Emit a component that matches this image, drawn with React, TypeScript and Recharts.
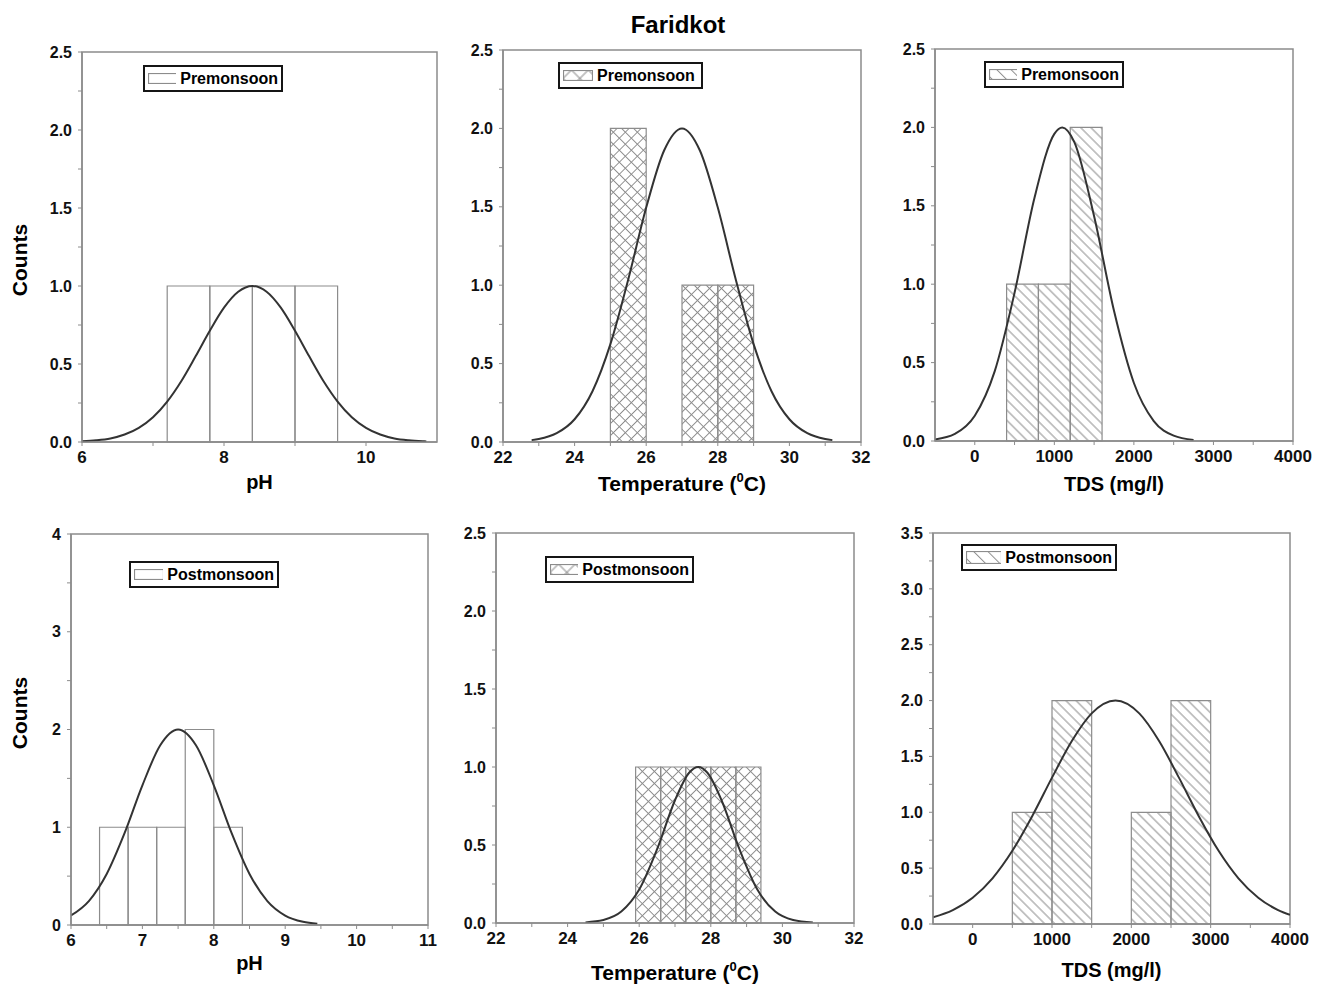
import React from 'react';
import { ComposedChart, Line, XAxis, YAxis, ReferenceArea, Legend, Label } from 'recharts';

const FONT = '"Liberation Sans", Arial, Helvetica, sans-serif';
const GREY = '#8c8c8c';

// ---- Premonsoon ----
const phPreLo = [7.2, 7.8, 8.4, 9.0];
const phPreHi = [7.8, 8.4, 9.0, 9.6];
const phPreCounts = [1, 1, 1, 1];
const phPreFitX = [6.0, 6.2, 6.4, 6.6, 6.8, 7.0, 7.2, 7.4, 7.6, 7.8, 8.0, 8.2, 8.4, 8.6, 8.8, 9.0, 9.2, 9.4, 9.6, 9.8, 10.0, 10.2, 10.4, 10.6, 10.8, 10.85];
const phPreFitY = [0.005, 0.011, 0.023, 0.048, 0.091, 0.159, 0.259, 0.391, 0.549, 0.713, 0.861, 0.963, 1.0, 0.963, 0.861, 0.713, 0.549, 0.391, 0.259, 0.159, 0.091, 0.048, 0.023, 0.011, 0.005, 0.004];

const tempPreLo = [25, 27, 28];
const tempPreHi = [26, 28, 29];
const tempPreCounts = [2, 1, 1];
const tempPreFitX = [22.8, 23, 23.5, 24, 24.5, 25, 25.5, 26, 26.5, 27, 27.5, 28, 28.5, 29, 29.5, 30, 30.5, 31, 31.2];
const tempPreFitY = [0.012, 0.019, 0.056, 0.145, 0.324, 0.624, 1.038, 1.495, 1.859, 2.0, 1.859, 1.495, 1.038, 0.624, 0.324, 0.145, 0.056, 0.019, 0.012];

const tdsPreLo = [400, 800, 1200];
const tdsPreHi = [800, 1200, 1600];
const tdsPreCounts = [1, 1, 2];
const tdsPreFitX = [-500, -250, 0, 250, 500, 750, 1000, 1100, 1250, 1500, 1750, 2000, 2250, 2500, 2750];
const tdsPreFitY = [0.010, 0.045, 0.161, 0.444, 0.945, 1.550, 1.959, 2.0, 1.908, 1.433, 0.830, 0.370, 0.127, 0.034, 0.007];

// ---- Postmonsoon ----
const phPostLo = [6.4, 6.8, 7.2, 7.6, 8.0];
const phPostHi = [6.8, 7.2, 7.6, 8.0, 8.4];
const phPostCounts = [1, 1, 1, 2, 1];
const phPostFitX = [6.0, 6.25, 6.5, 6.75, 7.0, 7.25, 7.5, 7.75, 8.0, 8.25, 8.5, 8.75, 9.0, 9.25, 9.45];
const phPostFitY = [0.097, 0.245, 0.522, 0.939, 1.429, 1.839, 2.0, 1.839, 1.429, 0.939, 0.522, 0.245, 0.097, 0.033, 0.012];

const tempPostLo = [25.9, 26.6, 27.3, 28.0, 28.7];
const tempPostHi = [26.6, 27.3, 28.0, 28.7, 29.4];
const tempPostCounts = [1, 1, 1, 1, 1];
const tempPostFitX = [24.5, 25.0, 25.5, 26.0, 26.5, 27.0, 27.4, 27.65, 27.9, 28.3, 28.8, 29.3, 29.8, 30.3, 30.85];
const tempPostFitY = [0.004, 0.019, 0.073, 0.214, 0.473, 0.787, 0.965, 1.0, 0.965, 0.787, 0.473, 0.214, 0.073, 0.019, 0.003];

const tdsPostLo = [500, 1000, 2000, 2500];
const tdsPostHi = [1000, 1500, 2500, 3000];
const tdsPostCounts = [1, 2, 1, 2];
const tdsPostFitX = [-500, -250, 0, 250, 500, 750, 1000, 1250, 1500, 1800, 2100, 2350, 2600, 2850, 3100, 3350, 3600, 3850, 4000];
const tdsPostFitY = [0.061, 0.125, 0.235, 0.409, 0.655, 0.965, 1.310, 1.638, 1.885, 2.0, 1.885, 1.638, 1.310, 0.965, 0.655, 0.409, 0.235, 0.125, 0.082];

// ---- ticks ----
const phPreXMajor = [6, 8, 10];
const phPreXMinor = [7, 9];
const phPostXMajor = [6, 7, 8, 9, 10, 11];
const phPostXMinor = [6.5, 7.5, 8.5, 9.5, 10.5];
const tempXMajor = [22, 24, 26, 28, 30, 32];
const tempXMinor = [23, 25, 27, 29, 31];
const tdsXMajor = [0, 1000, 2000, 3000, 4000];
const tdsXMinor = [500, 1500, 2500, 3500];
const countMajor25 = [0, 0.5, 1.0, 1.5, 2.0, 2.5];
const countMinor25 = [0.25, 0.75, 1.25, 1.75, 2.25];
const countMajor4 = [0, 1, 2, 3, 4];
const countMinor4 = [0.5, 1.5, 2.5, 3.5];
const countMajor35 = [0, 0.5, 1.0, 1.5, 2.0, 2.5, 3.0, 3.5];
const countMinor35 = [0.25, 0.75, 1.25, 1.75, 2.25, 2.75, 3.25];

const panels = [
  {
    id: 'p1', plot: { l: 82, t: 52, r: 437, b: 442 },
    xDomain: [6, 11], xMajor: phPreXMajor, xMinor: phPreXMinor,
    yDomain: [0, 2.5], yMajor: countMajor25, yMinor: countMinor25, yDigits: 1,
    lo: phPreLo, hi: phPreHi, counts: phPreCounts, fitX: phPreFitX, fitY: phPreFitY,
    hatch: 'none', legendText: 'Premonsoon', legend: { x: 143, y: 65, w: 140 }, swatch: [30, 11],
    title: 'pH', titleSize: 20, titleDy: 47,
  },
  {
    id: 'p2', plot: { l: 503, t: 50, r: 861, b: 442 },
    xDomain: [22, 32], xMajor: tempXMajor, xMinor: tempXMinor,
    yDomain: [0, 2.5], yMajor: countMajor25, yMinor: countMinor25, yDigits: 1,
    lo: tempPreLo, hi: tempPreHi, counts: tempPreCounts, fitX: tempPreFitX, fitY: tempPreFitY,
    hatch: 'cross', legendText: 'Premonsoon', legend: { x: 558, y: 62, w: 145 }, swatch: [30, 11],
    title: 'temp', titleSize: 21, titleDy: 49,
  },
  {
    id: 'p3', plot: { l: 935, t: 49, r: 1293, b: 441 },
    xDomain: [-500, 4000], xMajor: tdsXMajor, xMinor: tdsXMinor,
    yDomain: [0, 2.5], yMajor: countMajor25, yMinor: countMinor25, yDigits: 1,
    lo: tdsPreLo, hi: tdsPreHi, counts: tdsPreCounts, fitX: tdsPreFitX, fitY: tdsPreFitY,
    hatch: 'diag', legendText: 'Premonsoon', legend: { x: 984, y: 61, w: 140 }, swatch: [30, 11],
    title: 'TDS (mg/l)', titleSize: 20, titleDy: 50,
  },
  {
    id: 'p4', plot: { l: 71, t: 534, r: 428, b: 925 },
    xDomain: [6, 11], xMajor: phPostXMajor, xMinor: phPostXMinor,
    yDomain: [0, 4], yMajor: countMajor4, yMinor: countMinor4, yDigits: 0,
    lo: phPostLo, hi: phPostHi, counts: phPostCounts, fitX: phPostFitX, fitY: phPostFitY,
    hatch: 'none', legendText: 'Postmonsoon', legend: { x: 129, y: 561, w: 150 }, swatch: [30, 11],
    title: 'pH', titleSize: 20, titleDy: 45,
  },
  {
    id: 'p5', plot: { l: 496, t: 533, r: 854, b: 923 },
    xDomain: [22, 32], xMajor: tempXMajor, xMinor: tempXMinor,
    yDomain: [0, 2.5], yMajor: countMajor25, yMinor: countMinor25, yDigits: 1,
    lo: tempPostLo, hi: tempPostHi, counts: tempPostCounts, fitX: tempPostFitX, fitY: tempPostFitY,
    hatch: 'cross', legendText: 'Postmonsoon', legend: { x: 545, y: 556, w: 149 }, swatch: [30, 11],
    title: 'temp', titleSize: 21, titleDy: 57,
  },
  {
    id: 'p6', plot: { l: 933, t: 533, r: 1290, b: 924 },
    xDomain: [-500, 4000], xMajor: tdsXMajor, xMinor: tdsXMinor,
    yDomain: [0, 3.5], yMajor: countMajor35, yMinor: countMinor35, yDigits: 1,
    lo: tdsPostLo, hi: tdsPostHi, counts: tdsPostCounts, fitX: tdsPostFitX, fitY: tdsPostFitY,
    hatch: 'diag', legendText: 'Postmonsoon', legend: { x: 961, y: 544, w: 156 }, swatch: [36, 13],
    title: 'TDS (mg/l)', titleSize: 20, titleDy: 53,
  },
];

const PatternDef = ({ id, kind, size = 1 }: { id: string; kind: string; size?: number }) => {
  if (kind === 'cross') {
    const s = 8.5 * size;
    return (
      <pattern id={id} patternUnits="userSpaceOnUse" width={s} height={s} patternTransform="rotate(45)">
        <line x1={0} y1={s / 2} x2={s} y2={s / 2} stroke={GREY} strokeWidth={1} />
        <line x1={s / 2} y1={0} x2={s / 2} y2={s} stroke={GREY} strokeWidth={1} />
      </pattern>
    );
  }
  if (kind === 'diag') {
    const s = 7.2 * size;
    return (
      <pattern id={id} patternUnits="userSpaceOnUse" width={s} height={s} patternTransform="rotate(45)">
        <line x1={0} y1={s / 2} x2={s} y2={s / 2} stroke={GREY} strokeWidth={1} />
      </pattern>
    );
  }
  return null;
};

const LegendBox = ({ cfg }: { cfg: any }) => {
  const [sw, sh] = cfg.swatch;
  const pid = `${cfg.id}-lg`;
  return (
    <div
      style={{
        display: 'flex', alignItems: 'center', boxSizing: 'border-box',
        width: cfg.legend.w, height: 27, border: '2px solid #151515', background: '#fff',
        padding: '0 3px', gap: 4, fontFamily: FONT, fontWeight: 700, fontSize: 16, color: '#000',
      }}
    >
      <svg width={sw} height={sh} style={{ display: 'block' }}>
        <defs>
          <PatternDef id={pid} kind={cfg.hatch} size={1.4} />
        </defs>
        <rect x={0.5} y={0.5} width={sw - 1} height={sh - 1}
          fill={cfg.hatch === 'none' ? '#fff' : `url(#${pid})`} stroke={GREY} strokeWidth={1.2} />
      </svg>
      <span style={{ whiteSpace: 'nowrap' }}>{cfg.legendText}</span>
    </div>
  );
};

const Panel = ({ cfg }: { cfg: any }) => {
  const { plot } = cfg;
  const width = plot.r - plot.l + 90;
  const height = plot.b - plot.t + 90;
  const left = plot.l - 70;
  const top = plot.t - 20;
  const data = cfg.fitX.map((x: number, i: number) => ({ x, y: cfg.fitY[i] }));
  const xTicks = [...cfg.xMajor, ...cfg.xMinor].sort((a, b) => a - b);
  const yTicks = [...cfg.yMajor, ...cfg.yMinor].sort((a, b) => a - b);
  const fill = cfg.hatch === 'none' ? 'none' : `url(#${cfg.id}-fill)`;

  const renderTitle = (props: any) => {
    const vb = props.viewBox;
    const cx = vb.x + vb.width / 2;
    const y = vb.y + cfg.titleDy;
    const common = { fontFamily: FONT, fontWeight: 700, fontSize: cfg.titleSize, fill: '#000', textAnchor: 'middle' as const };
    if (cfg.title === 'temp') {
      return (
        <text x={cx} y={y} {...common}>
          Temperature (
          <tspan dy={-9} fontSize={13}>0</tspan>
          <tspan dy={9}>C)</tspan>
        </text>
      );
    }
    return <text x={cx} y={y} {...common}>{cfg.title}</text>;
  };

  return (
    <div style={{ position: 'absolute', left, top, width, height }}>
      <ComposedChart width={width} height={height} data={data} margin={{ top: 20, right: 20, bottom: 0, left: 20 }}>
        <defs>
          <PatternDef id={`${cfg.id}-fill`} kind={cfg.hatch} />
        </defs>
        <XAxis
          dataKey="x" type="number" domain={cfg.xDomain} allowDataOverflow ticks={xTicks} interval={0}
          height={70} tickSize={4} tickMargin={5}
          axisLine={{ stroke: GREY, strokeWidth: 1.5 }} tickLine={{ stroke: GREY }}
          tick={{ fill: '#111', fontSize: 17, fontWeight: 700, fontFamily: FONT }}
          tickFormatter={(v: number) => (cfg.xMajor.includes(v) ? String(v) : '')}
        >
          <Label content={renderTitle} />
        </XAxis>
        <YAxis
          type="number" domain={cfg.yDomain} allowDataOverflow ticks={yTicks} interval={0}
          width={50} tickSize={4} tickMargin={6}
          axisLine={{ stroke: GREY, strokeWidth: 1.5 }} tickLine={{ stroke: GREY }}
          tick={{ fill: '#111', fontSize: 16, fontWeight: 700, fontFamily: FONT }}
          tickFormatter={(v: number) => (cfg.yMajor.includes(v) ? v.toFixed(cfg.yDigits) : '')}
        />
        {/* plot frame */}
        <ReferenceArea x1={cfg.xDomain[0]} x2={cfg.xDomain[1]} y1={cfg.yDomain[0]} y2={cfg.yDomain[1]}
          fill="none" stroke={GREY} strokeWidth={1.5} ifOverflow="visible" />
        {cfg.counts.map((c: number, i: number) => (
          <ReferenceArea key={i} x1={cfg.lo[i]} x2={cfg.hi[i]} y1={0} y2={c}
            fill={fill} fillOpacity={1} stroke={GREY} strokeWidth={1.2} />
        ))}
        <Line type="monotone" dataKey="y" stroke="#333" strokeWidth={2} dot={false} activeDot={false}
          isAnimationActive={false} />
        <Legend
          layout="horizontal" verticalAlign="middle" align="center"
          wrapperStyle={{ left: cfg.legend.x - left, top: cfg.legend.y - top, width: 'auto' }}
          content={() => <LegendBox cfg={cfg} />}
        />
      </ComposedChart>
    </div>
  );
};

export default function App() {
  return (
    <div style={{ position: 'absolute', left: 0, top: 0, width: 1321, height: 984, background: '#fff', overflow: 'hidden' }}>
      <svg width={1321} height={984} style={{ position: 'absolute', left: 0, top: 0 }}>
        <text x={678} y={33} textAnchor="middle" fontFamily={FONT} fontWeight={700} fontSize={24} fill="#000">Faridkot</text>
        <text transform="translate(27,260) rotate(-90)" textAnchor="middle" fontFamily={FONT} fontWeight={700} fontSize={21} fill="#000">Counts</text>
        <text transform="translate(27,713) rotate(-90)" textAnchor="middle" fontFamily={FONT} fontWeight={700} fontSize={21} fill="#000">Counts</text>
      </svg>
      {panels.map((p) => (
        <Panel key={p.id} cfg={p} />
      ))}
    </div>
  );
}
